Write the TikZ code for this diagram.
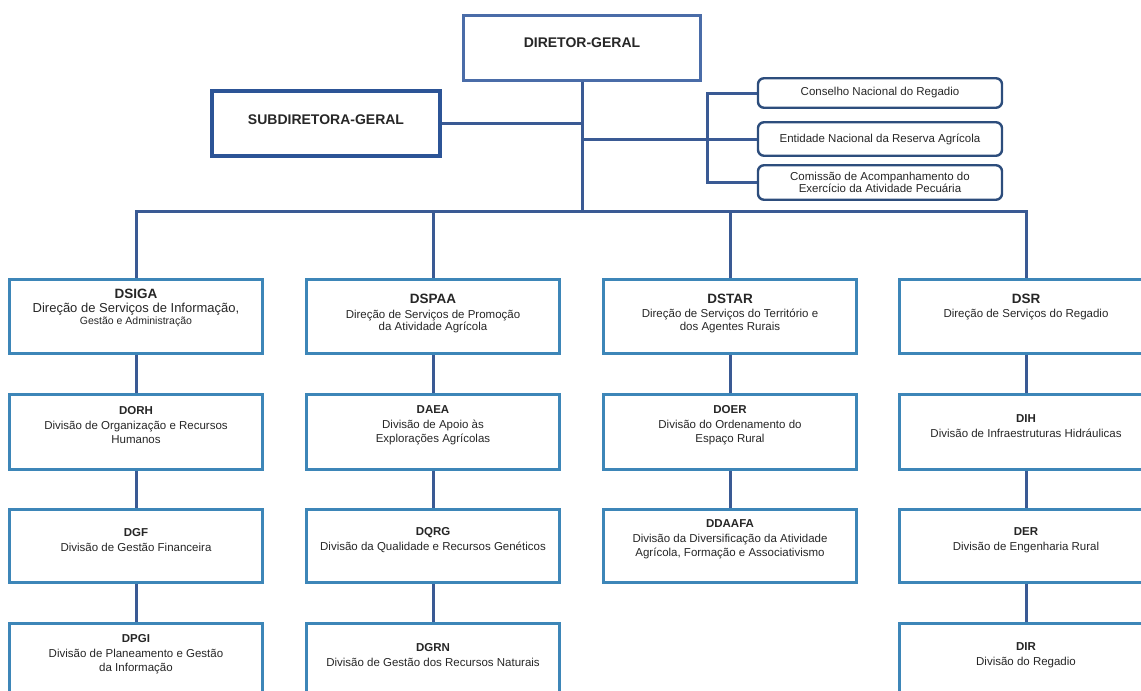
\documentclass[tikz,border=0pt]{standalone}
\usepackage{fontspec}
\setmainfont{Liberation Sans}

\definecolor{linkblue}{HTML}{3A5A94}
\definecolor{dirblue}{HTML}{3D86B8}
\definecolor{topblue}{HTML}{4A6CA8}
\definecolor{subblue}{HTML}{2C5496}
\definecolor{navyblue}{HTML}{2D4D7C}

\tikzset{
  link/.style={draw=linkblue,line width=3pt},
  unit/.style={draw=dirblue,line width=3.2pt,minimum width=253pt,inner sep=0pt},
  council/.style={draw=navyblue,line width=2.4pt,rounded corners=6pt,minimum width=244pt,inner sep=0pt},
  lbl/.style={align=center,inner sep=0pt,text=black!85,font=\fontsize{11.5}{14.5}\selectfont}
}

\begin{document}
\begin{tikzpicture}[x=1pt,y=-1pt]
\useasboundingbox (0,0) rectangle (1141,691);

% top
\node[draw=topblue,line width=3pt,minimum width=237pt,minimum height=65pt] (dg) at (582,48) {};
\node[lbl,font=\fontsize{14}{16}\selectfont\bfseries] (dg-t) at ([yshift=5pt]dg.center) {DIRETOR-GERAL};
\node[draw=subblue,line width=4pt,minimum width=228pt,minimum height=65pt] (sub) at (326,123.5) {};
\node[lbl,font=\fontsize{14}{16}\selectfont\bfseries] (sub-t) at ([yshift=3.5pt]sub.center) {SUBDIRETORA-GERAL};

\node[council,minimum height=29.5pt] (cnr) at (880,93) {};
\node[lbl] (cnr-t) at (cnr.center) {Conselho Nacional do Regadio};
\node[council,minimum height=33.5pt] (enra) at (880,139) {};
\node[lbl] (enra-t) at (enra.center) {Entidade Nacional da Reserva Agrícola};
\node[council,minimum height=34.5pt] (caeap) at (880,182.5) {};
\node[lbl,font=\fontsize{11.5}{12.5}\selectfont] (caeap-t) at (caeap.center) {Comissão de Acompanhamento do\\Exercício da Atividade Pecuária};

% direcoes de servicos
\foreach \n/\x in {dsiga/136,dspaa/433,dstar/730,dsr/1026}{
  \node[unit,minimum height=74pt] (\n) at (\x,316.5) {};
}
\node[lbl] (dsiga-t) at ([yshift=8.5pt]dsiga.center) {{\fontsize{13.5}{16}\selectfont\bfseries DSIGA}\\[-1pt]{\fontsize{13}{15}\selectfont Direção de Serviços de Informação,}\\[-2pt]{\fontsize{10.5}{12}\selectfont Gestão e Administração}};
\node[lbl,font=\fontsize{11.5}{12.5}\selectfont] (dspaa-t) at ([yshift=3pt]dspaa.center) {{\bfseries\fontsize{13.5}{16}\selectfont DSPAA}\\[2pt]Direção de Serviços de Promoção\\da Atividade Agrícola};
\node[lbl,font=\fontsize{11.5}{12.5}\selectfont] (dstar-t) at ([yshift=3.5pt]dstar.center) {{\bfseries\fontsize{13.5}{16}\selectfont DSTAR}\\[2pt]Direção de Serviços do Território e\\dos Agentes Rurais};
\node[lbl,font=\fontsize{11.5}{12.5}\selectfont] (dsr-t) at ([yshift=9.5pt]dsr.center) {{\bfseries\fontsize{13.5}{16}\selectfont DSR}\\[2pt]Direção de Serviços do Regadio};

% divisoes
\foreach \n/\x/\y/\h in {dorh/136/432/75,dgf/136/546/73,dpgi/136/661/75,
                         daea/433/432/75,dqrg/433/546/73,dgrn/433/661/75,
                         doer/730/432/75,ddaafa/730/546/73,
                         dih/1026/432/75,der/1026/546/73,dir/1026/661/75}{
  \node[unit,minimum height=\h pt] (\n) at (\x,\y) {};
}
\node[lbl] (dorh-t) at ([yshift=6.5pt]dorh.center) {{\bfseries DORH}\\Divisão de Organização e Recursos\\Humanos};
\node[lbl] (dgf-t) at ([yshift=6pt]dgf.center) {{\bfseries DGF}\\Divisão de Gestão Financeira};
\node[lbl] (dpgi-t) at ([yshift=6.5pt]dpgi.center) {{\bfseries DPGI}\\Divisão de Planeamento e Gestão\\da Informação};
\node[lbl] (daea-t) at ([yshift=6.5pt]daea.center) {{\bfseries DAEA}\\Divisão de Apoio às\\Explorações Agrícolas};
\node[lbl] (dqrg-t) at ([yshift=6pt]dqrg.center) {{\bfseries DQRG}\\Divisão da Qualidade e Recursos Genéticos};
\node[lbl] (dgrn-t) at ([yshift=6pt]dgrn.center) {{\bfseries DGRN}\\Divisão de Gestão dos Recursos Naturais};
\node[lbl] (doer-t) at ([yshift=6.5pt]doer.center) {{\bfseries DOER}\\Divisão do Ordenamento do\\Espaço Rural};
\node[lbl] (ddaafa-t) at ([yshift=6.5pt]ddaafa.center) {{\bfseries DDAAFA}\\Divisão da Diversificação da Atividade\\Agrícola, Formação e Associativismo};
\node[lbl] (dih-t) at ([yshift=6pt]dih.center) {{\bfseries DIH}\\Divisão de Infraestruturas Hidráulicas};
\node[lbl] (der-t) at ([yshift=6pt]der.center) {{\bfseries DER}\\Divisão de Engenharia Rural};
\node[lbl] (dir-t) at ([yshift=6pt]dir.center) {{\bfseries DIR}\\Divisão do Regadio};

% ligacoes
\coordinate (bus) at (582,211);
\coordinate (brk) at (707,0);
\draw[link] (dg) -- (bus);
\foreach \d in {dsiga,dspaa,dstar,dsr}
  \draw[link] (\d) |- (bus);
\draw[link] (sub) -- (sub -| dg);
\draw[link] (dg |- enra) -- (enra);
\draw[link] (cnr) -| (brk |- caeap) -- (caeap);
\foreach \a/\b in {dsiga/dorh,dorh/dgf,dgf/dpgi,dspaa/daea,daea/dqrg,dqrg/dgrn,
                   dstar/doer,doer/ddaafa,dsr/dih,dih/der,der/dir}
  \draw[link] (\a) -- (\b);
\end{tikzpicture}
\end{document}
